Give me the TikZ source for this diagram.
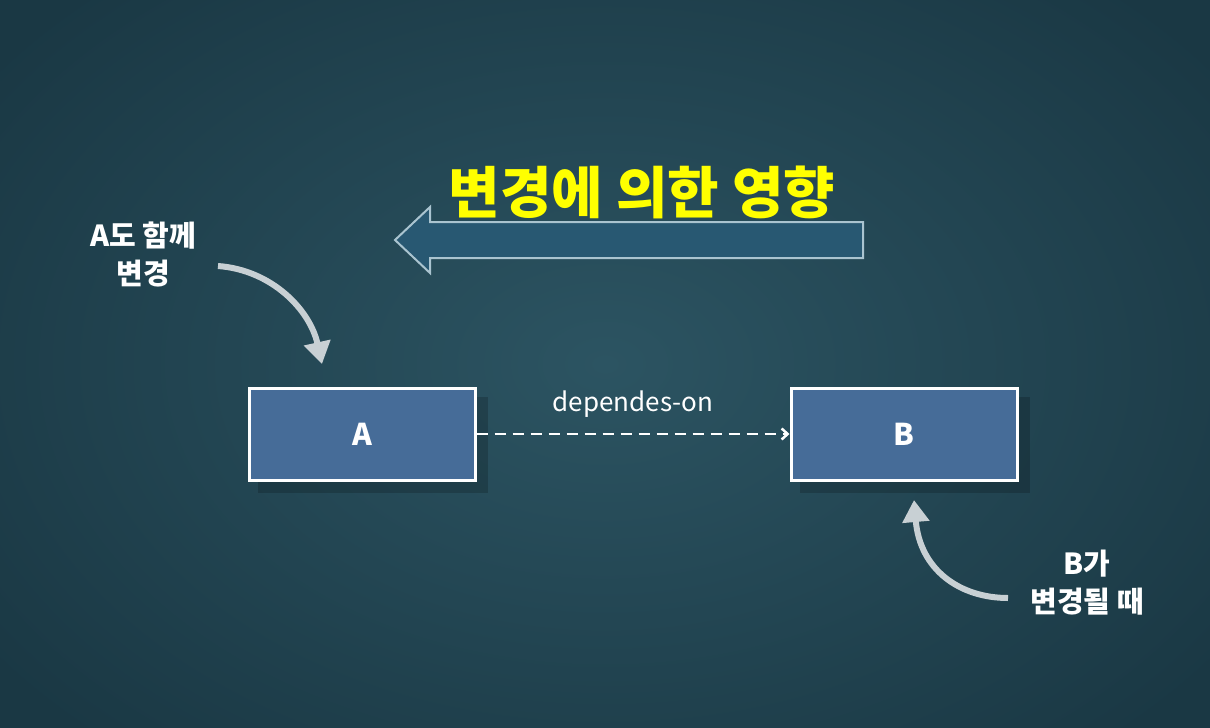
\documentclass[tikz,border=0pt]{standalone}
\usepackage{fontspec}
\setmainfont{Noto Sans CJK KR}
\usetikzlibrary{arrows.meta}
\definecolor{bgmid}{RGB}{44,84,98}
\definecolor{bgdark}{RGB}{26,56,68}
\definecolor{boxfill}{RGB}{70,108,152}
\definecolor{bigarrow}{RGB}{40,88,114}
\definecolor{bigedge}{RGB}{170,196,208}
\definecolor{curvecol}{RGB}{200,208,212}
\definecolor{titleyel}{RGB}{255,255,0}
\tikzset{
  classbox/.style={draw=white, line width=3pt, fill=boxfill, minimum width=226pt, minimum height=92pt, inner sep=0pt, text=white, font=\fontsize{30}{34}\selectfont\bfseries},
  notetext/.style={text=white, font=\fontsize{29}{38}\selectfont\bfseries, align=center},
  curvearrow/.style={draw=curvecol, line width=6pt, -{Triangle[length=22pt,width=26pt]}},
  deparrow/.style={draw=white, line width=2.5pt, dash pattern=on 11pt off 7pt, -{Straight Barb[length=6pt,width=11pt]}},
}
\begin{document}
\begin{tikzpicture}[x=1pt,y=-1pt]
\useasboundingbox (0,0) rectangle (1210,728);
% background
\shade[inner color=bgmid, outer color=bgdark] (-150,-150) rectangle (1360,878);
% shadows of boxes
\fill[black, opacity=0.18] (258,397) rectangle (488,493);
\fill[black, opacity=0.18] (800,397) rectangle (1030,493);
% big arrow
\coordinate (tip) at (395,240);
\draw[bigedge, line width=2pt, fill=bigarrow]
  (863,222) -- (430,222) -- (430,207) -- (tip) -- (430,273) -- (430,258) -- (863,258) -- cycle;
\node (title) [text=titleyel, font=\fontsize{56}{60}\selectfont\bfseries] at (642,192) {변경에 의한 영향};
% boxes
\node (A) [classbox] at (362,434) {A};
\node (B) [classbox] at (904,434) {B};
\draw[deparrow] (A.east) -- (B.west) node[midway, above=12pt, text=white, font=\fontsize{26}{30}\selectfont] (dep) {dependes-on};
% note A
\node (noteA) [notetext] at (143,254) {A도 함께\\변경};
\coordinate (sA) at (218,266);
\coordinate (eA) at (322,364);
\draw[curvearrow] (sA) .. controls (272,270) and (310,310) .. (eA);
% note B
\node (noteB) [notetext] at (1087,583) {B가\\변경될 때};
\coordinate (sB) at (1008,598);
\coordinate (eB) at (914,500);
\draw[curvearrow] (sB) .. controls (960,598) and (920,570) .. (eB);
\end{tikzpicture}
\end{document}
